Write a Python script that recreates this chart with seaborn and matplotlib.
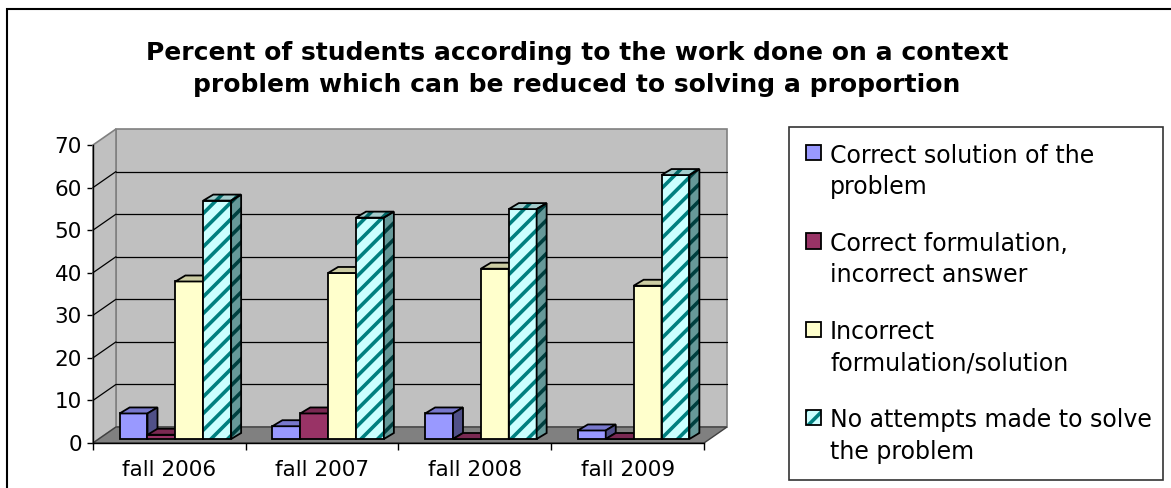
import numpy as np
import pandas as pd
import matplotlib
matplotlib.use("Agg")
import matplotlib.pyplot as plt
import seaborn as sns
from matplotlib.patches import Polygon, Rectangle, Patch
from matplotlib.transforms import offset_copy, IdentityTransform
from matplotlib.legend_handler import HandlerBase

# ---------------- data ----------------
years = ["fall 2006", "fall 2007", "fall 2008", "fall 2009"]
series = ["Correct solution of the problem",
          "Correct formulation, incorrect answer",
          "Incorrect formulation/solution",
          "No attempts made to solve the problem"]
legend_labels = ["Correct solution of the\nproblem",
                 "Correct formulation,\nincorrect answer",
                 "Incorrect\nformulation/solution",
                 "No attempts made to solve\nthe problem"]
correct_solution = [6, 3, 6, 2]
correct_formulation = [1, 6, 0, 0]
incorrect_formulation = [37, 39, 40, 36]
no_attempt = [56, 52, 54, 62]
yticks = [0, 10, 20, 30, 40, 50, 60, 70]
title = ("Percent of students according to the work done on a context\n"
         "problem which can be reduced to solving a proportion")

# ---------------- styles ----------------
face_colors = ["#9999FF", "#993366", "#FFFFCC", "#CCFFFF"]
top_colors = ["#7878CC", "#7A2952", "#CCCCA3", "#A3CCCC"]
side_colors = ["#505088", "#4D1A33", "#8A8A70", "#669999"]
stripe_front, stripe_top, stripe_side = "#008080", "#006666", "#004040"

W, H = 1171, 488
sns.set_theme(style="white")
plt.rcParams["font.family"] = ["DejaVu Sans"]
plt.rcParams["text.color"] = "black"
plt.rcParams["hatch.linewidth"] = 2.6

fig = plt.figure(figsize=(W / 100, H / 100), dpi=100)
fig.patch.set_facecolor("white")
ax = fig.add_axes([93 / W, (H - 443) / H, 611 / W, 298 / H])
ax.set_facecolor("none")

values = [correct_solution, correct_formulation, incorrect_formulation, no_attempt]
df = pd.DataFrame({
    "year": [y for s in series for y in years],
    "series": [s for s in series for _ in years],
    "value": [v for vals in values for v in vals],
})
sns.barplot(data=df, x="year", y="value", hue="series", order=years,
            hue_order=series, palette=face_colors, saturation=1, width=0.73,
            edgecolor="black", linewidth=1.3, legend=False, ax=ax)

ax.set_xlim(-0.5, 3.5)
ax.set_ylim(0, 70)
ax.set_xlabel("")
ax.set_ylabel("")

# ---------------- pseudo 3-D walls ----------------
DX, DY = 23, 16
back = offset_copy(ax.transData, fig=fig, x=DX, y=DY, units="dots")
ax.add_patch(Rectangle((-0.5, 0), 4, 70, transform=back, facecolor="#C0C0C0",
                       edgecolor="#808080", lw=1.2, zorder=0.5, clip_on=False))
for v in yticks[1:-1]:
    ax.plot([-0.5, 3.5], [v, v], transform=back, color="black", lw=0.9,
            zorder=0.8, clip_on=False)

T = ax.transData
fig.canvas.draw()
p0 = np.array(T.transform((-0.5, 0)))
p1 = np.array(T.transform((-0.5, 70)))
p2 = np.array(T.transform((3.5, 0)))
d = np.array([DX, DY])
ax.add_patch(Polygon([p0, p1, p1 + d, p0 + d], closed=True, transform=IdentityTransform(),
                     facecolor="#C0C0C0", edgecolor="#808080", lw=1.2, zorder=0.6, clip_on=False))
for v in yticks[1:-1]:
    a = np.array(T.transform((-0.5, v)))
    ax.plot([a[0], a[0] + DX], [a[1], a[1] + DY], transform=IdentityTransform(),
            color="black", lw=0.9, zorder=0.8, clip_on=False)
ax.add_patch(Polygon([p0, p2, p2 + d, p0 + d], closed=True, transform=IdentityTransform(),
                     facecolor="#808080", edgecolor="#404040", lw=1.0, zorder=0.9, clip_on=False))

# ---------------- 3-D bars ----------------
BX, BY = 6, 4      # bar front plane offset
SX, SY = 10, 6     # bar depth
bar_tr = offset_copy(ax.transData, fig=fig, x=BX, y=BY, units="dots")
for h, cont in enumerate(ax.containers):
    for patch in cont:
        patch.set_transform(bar_tr)
        patch.set_zorder(3 + 2 * h)
        patch.set_clip_on(False)
        x0, w, ht = patch.get_x(), patch.get_width(), patch.get_height()
        fl = np.array(bar_tr.transform((x0, ht)))
        fr = np.array(bar_tr.transform((x0 + w, ht)))
        br = np.array(bar_tr.transform((x0 + w, 0)))
        s = np.array([SX, SY])
        top = [fl, fr, fr + s, fl + s]
        side = [br, fr, fr + s, br + s]
        hatched = (h == 3)
        for poly, col, sc in ((top, top_colors[h], stripe_top), (side, side_colors[h], stripe_side)):
            if hatched:
                ax.add_patch(Polygon(poly, closed=True, transform=IdentityTransform(),
                                     facecolor=col, edgecolor=sc, hatch="//", lw=0,
                                     zorder=3.5 + 2 * h, clip_on=False))
                ax.add_patch(Polygon(poly, closed=True, transform=IdentityTransform(),
                                     fill=False, edgecolor="black", lw=1.3,
                                     zorder=3.6 + 2 * h, clip_on=False))
            else:
                ax.add_patch(Polygon(poly, closed=True, transform=IdentityTransform(),
                                     facecolor=col, edgecolor="black", lw=1.3,
                                     zorder=3.5 + 2 * h, clip_on=False))
        if hatched:
            patch.set_hatch("//")
            patch.set_edgecolor(stripe_front)
            patch.set_linewidth(0)
            ax.add_patch(Rectangle((x0, 0), w, ht, transform=bar_tr, fill=False,
                                   edgecolor="black", lw=1.3, zorder=3.2 + 2 * h,
                                   clip_on=False))

# ---------------- axes ----------------
for sp in ["top", "right"]:
    ax.spines[sp].set_visible(False)
for sp in ["left", "bottom"]:
    ax.spines[sp].set_color("black")
    ax.spines[sp].set_linewidth(1.0)
    ax.spines[sp].set_zorder(2)
ax.set_yticks(yticks)
ax.set_yticklabels([str(v) for v in yticks])
ax.tick_params(axis="y", length=4.5, width=1, color="black", pad=3.5,
               labelsize=15.5, left=True, labelcolor="black")
ax.set_xticks([-0.5, 0.5, 1.5, 2.5, 3.5])
ax.set_xticklabels([])
ax.set_xticks(range(len(years)), minor=True)
ax.set_xticklabels(years, minor=True)
ax.tick_params(axis="x", which="major", length=5, width=1, color="black", bottom=True)
ax.tick_params(axis="x", which="minor", length=0, pad=12, labelsize=15.5, labelcolor="black")
ax.grid(False)

# ---------------- title ----------------
fig.text(577 / W, 1 - 69 / H, title, ha="center", va="center", fontsize=18,
         fontweight="bold", linespacing=1.42, color="black")

# ---------------- legend ----------------
class TopSquare(HandlerBase):
    def create_artists(self, legend, orig_handle, xdescent, ydescent, width,
                       height, fontsize, trans):
        s = 0.64 * fontsize
        y0 = 0.86 * fontsize
        arts = []
        fc = orig_handle.get_facecolor()
        hatch = orig_handle.get_hatch()
        if hatch:
            arts.append(Rectangle((-xdescent, y0), s, s, facecolor=fc, edgecolor=stripe_front,
                                  hatch=hatch, lw=0, transform=trans))
            arts.append(Rectangle((-xdescent, y0), s, s, fill=False, edgecolor="black",
                                  lw=1.3, transform=trans))
        else:
            arts.append(Rectangle((-xdescent, y0), s, s, facecolor=fc, edgecolor="black",
                                  lw=1.3, transform=trans))
        return arts

handles = [Patch(facecolor=c, hatch=("//" if i == 3 else None)) for i, c in enumerate(face_colors)]
leg = fig.legend(handles=handles, labels=legend_labels, handler_map={Patch: TopSquare()},
                 loc="upper left", bbox_to_anchor=(789 / W, 1 - 479 / H, 374 / W, 352 / H),
                 mode="expand", fontsize=17, labelspacing=1.4, borderpad=0.7,
                 handlelength=0.64, handletextpad=0.4, borderaxespad=0,
                 frameon=True, fancybox=False, shadow=False, labelcolor="black")
for t in leg.get_texts():
    t.set_linespacing(1.38)
leg.get_frame().set_edgecolor("black")
leg.get_frame().set_linewidth(1.2)

# ---------------- chart border ----------------
fig.patches.append(Rectangle((7 / W, -0.1), 1.2, 1.1 - 9 / H, transform=fig.transFigure,
                             fill=False, edgecolor="black", lw=1.5))

fig.savefig("out.png", dpi=100)
